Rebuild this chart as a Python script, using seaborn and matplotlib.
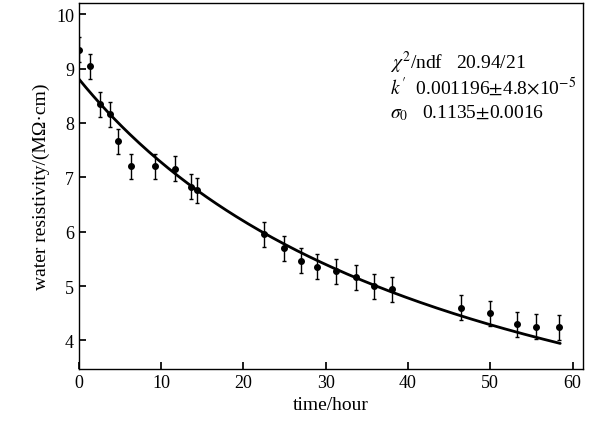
import numpy as np
import matplotlib
matplotlib.use("Agg")
import matplotlib.pyplot as plt
import seaborn as sns

t = [0, 1.3, 2.6, 3.8, 4.8, 6.4, 9.2, 11.7, 13.6, 14.4, 22.5, 24.9, 27.0, 29.0, 31.3, 33.7, 35.9, 38.0, 46.5, 50.0, 53.2, 55.6, 58.4]
rho = [9.35, 9.04, 8.34, 8.16, 7.66, 7.2, 7.2, 7.16, 6.83, 6.76, 5.95, 5.7, 5.47, 5.36, 5.27, 5.16, 5.0, 4.94, 4.6, 4.5, 4.3, 4.25, 4.24]
err = [0.23] * len(t)
sigma0 = 0.1135
kp = 0.001196

sns.set_theme(style="ticks")
plt.rcParams['font.family'] = ['Liberation Serif', 'DejaVu Serif']
plt.rcParams['mathtext.fontset'] = 'stix'
for k in ['text.color', 'axes.labelcolor', 'xtick.color', 'ytick.color', 'axes.edgecolor']:
    plt.rcParams[k] = 'black'
fig, ax = plt.subplots(figsize=(5.97, 4.35), dpi=100)
fig.subplots_adjust(left=0.132, right=0.977, top=0.99, bottom=0.15)

tt = np.linspace(0, 58.5, 200)
ax.plot(tt, 1 / (sigma0 + 2 * kp * tt), color='black', lw=2)
ax.errorbar(t, rho, yerr=err, fmt='o', color='black', ms=4, elinewidth=1, capsize=1.5)

ax.set_xlim(0, 61.3)
ax.set_ylim(3.48, 10.2)
ax.set_xticks([0, 10, 20, 30, 40, 50, 60])
ax.set_yticks([4, 5, 6, 7, 8, 9, 10])
ax.tick_params(direction='in', labelsize=13, length=5)
ax.set_xlabel('time/hour', fontsize=14)
ax.set_ylabel('water resistivity/(MΩ·cm)', fontsize=14)
for s in ax.spines.values():
    s.set_linewidth(1)

ax.text(37.8, 9.0, r'$\chi^2$/ndf   20.94/21', fontsize=14)
ax.text(37.8, 8.55, r"$k'$  0.001196$\pm$4.8$\times$10$^{-5}$", fontsize=14)
ax.text(37.8, 8.1, r'$\sigma_0$   0.1135$\pm$0.0016', fontsize=14)
fig.savefig('out.png')
